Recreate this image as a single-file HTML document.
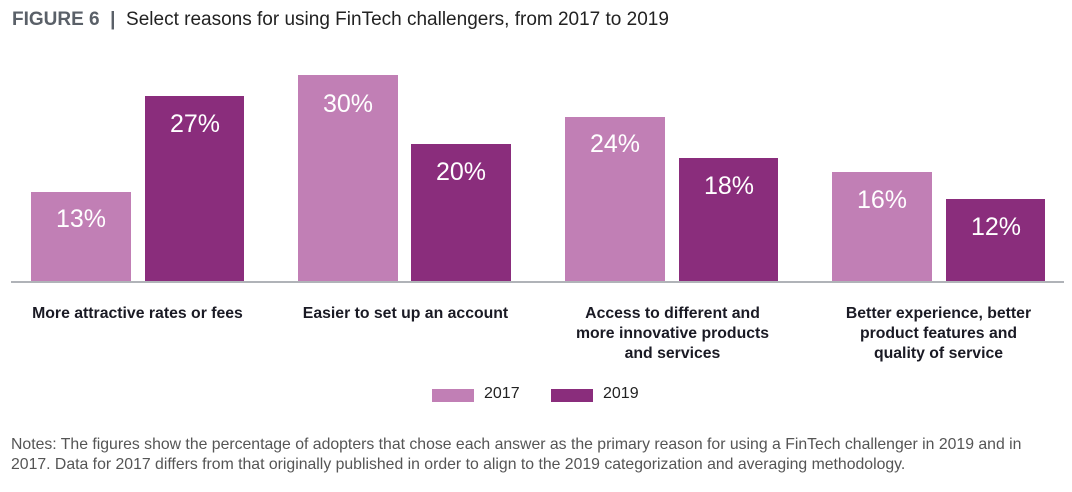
<!DOCTYPE html>
<html><head><meta charset="utf-8"><style>
body{margin:0;width:1072px;height:492px;background:#fff;position:relative;overflow:hidden;font-family:"Liberation Sans","DejaVu Sans",sans-serif;}
.a{position:absolute}
.b{position:absolute;color:#fff;font-size:25px;text-align:center;width:100px}
.l{position:absolute;font-weight:bold;font-size:15.8px;color:#1a1a24;text-align:center;line-height:20px}
.c1{background:#c17fb5}.c2{background:#8a2d7c}
</style></head><body>
<div class="a" style="left:12px;top:9px;font-size:19px;color:#222;white-space:nowrap"><b style="color:#5a6068">FIGURE 6</b> <span style="color:#5a6068;font-weight:bold">&nbsp;|&nbsp;</span> Select reasons for using FinTech challengers, from 2017 to 2019</div>

<div class="a c1" style="left:31px;top:192px;width:100px;height:90px"></div>
<div class="a c2" style="left:145px;top:96px;width:99px;height:186px"></div>
<div class="a c1" style="left:298px;top:75px;width:100px;height:207px"></div>
<div class="a c2" style="left:411px;top:144px;width:100px;height:138px"></div>
<div class="a c1" style="left:565px;top:117px;width:100px;height:165px"></div>
<div class="a c2" style="left:679px;top:158px;width:99px;height:124px"></div>
<div class="a c1" style="left:832px;top:172px;width:100px;height:110px"></div>
<div class="a c2" style="left:946px;top:199px;width:99px;height:83px"></div>

<div class="b" style="left:31px;top:205px">13%</div>
<div class="b" style="left:145px;top:110px">27%</div>
<div class="b" style="left:298px;top:90px">30%</div>
<div class="b" style="left:411px;top:158px">20%</div>
<div class="b" style="left:565px;top:130px">24%</div>
<div class="b" style="left:679px;top:172px">18%</div>
<div class="b" style="left:832px;top:186px">16%</div>
<div class="b" style="left:946px;top:213px">12%</div>

<div class="a" style="left:11px;top:281px;width:1053px;height:2px;background:#b0b3b8"></div>

<div class="l" style="left:0px;top:304px;width:275px">More attractive rates or fees</div>
<div class="l" style="left:268px;top:304px;width:275px">Easier to set up an account</div>
<div class="l" style="left:535px;top:304px;width:275px">Access to different and<br>more innovative products<br>and services</div>
<div class="l" style="left:801px;top:304px;width:275px">Better experience, better<br>product features and<br>quality of service</div>

<div class="a c1" style="left:432px;top:389px;width:42px;height:13px"></div>
<div class="a" style="left:484px;top:385px;font-size:16px;color:#222">2017</div>
<div class="a c2" style="left:551px;top:389px;width:42px;height:13px"></div>
<div class="a" style="left:603px;top:385px;font-size:16px;color:#222">2019</div>

<div class="a" style="left:11px;top:435px;width:1060px;font-size:15.8px;line-height:20px;color:#555;white-space:nowrap">Notes: The figures show the percentage of adopters that chose each answer as the primary reason for using a FinTech challenger in 2019 and in<br>2017. Data for 2017 differs from that originally published in order to align to the 2019 categorization and averaging methodology.</div>
</body></html>
